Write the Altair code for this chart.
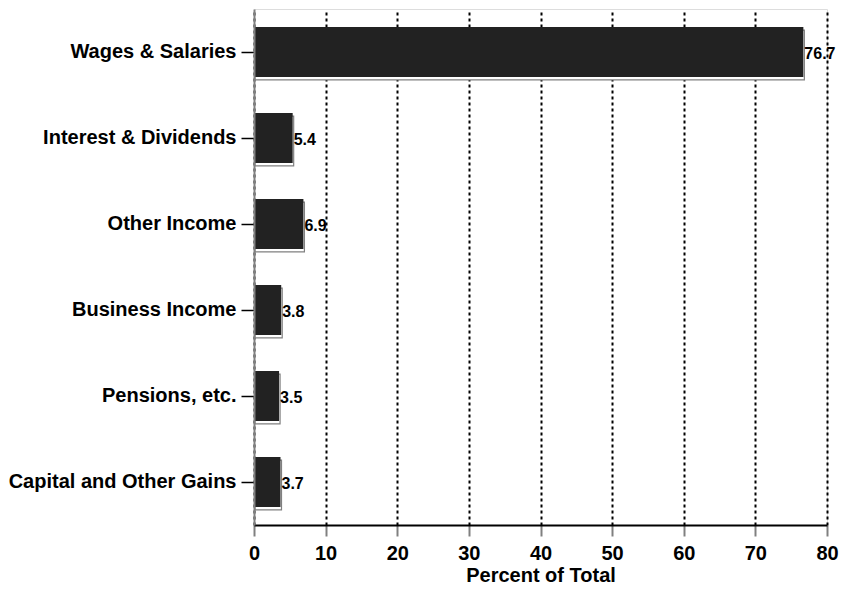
import altair as alt
import pandas as pd

categories = ["Wages & Salaries", "Interest & Dividends", "Other Income",
              "Business Income", "Pensions, etc.", "Capital and Other Gains"]
values = [76.7, 5.4, 6.9, 3.8, 3.5, 3.7]
labels = ["76.7", "5.4", "6.9", "3.8", "3.5", "3.7"]
x_ticks = [0, 10, 20, 30, 40, 50, 60, 70, 80]

df = pd.DataFrame({"category": categories, "value": values, "label": labels})

FONT = "Liberation Sans"

y_enc = alt.Y(
    "category:N", sort=categories, title=None,
    scale=alt.Scale(paddingInner=0.42, paddingOuter=0.21),
    axis=alt.Axis(labelFont=FONT, labelFontSize=20, labelFontWeight="bold",
                  labelColor="black", labelPadding=5, tickSize=13,
                  tickColor="black", tickWidth=1.5, domainColor="#808080",
                  domainWidth=2, grid=False, labelLimit=400, zindex=2),
)
x_enc = alt.X(
    "value:Q", scale=alt.Scale(domain=[0, 80], nice=False),
    axis=alt.Axis(values=x_ticks, title="Percent of Total", grid=True,
                  gridDash=[3, 3], gridColor="black", gridWidth=2, gridOpacity=1,
                  labelFont=FONT, labelFontSize=20, labelFontWeight="bold",
                  labelColor="black", labelPadding=7, tickSize=11,
                  tickColor="#808080", tickWidth=2, domainColor="black",
                  domainWidth=2, titleFont=FONT, titleFontSize=20,
                  titleFontWeight="bold", titleColor="black", titlePadding=2,
                  labelFlush=False),
)

shadow = alt.Chart(df).mark_bar(color="white", stroke="#808080", strokeWidth=1.2,
                                yOffset=3, xOffset=1).encode(x=x_enc, y=y_enc)
bars = alt.Chart(df).mark_bar(color="#222222").encode(x=x_enc, y=y_enc)
text = alt.Chart(df).mark_text(align="left", baseline="middle", dx=1, dy=2,
                               font=FONT, fontSize=16, fontWeight="bold",
                               color="black").encode(x=x_enc, y=y_enc, text="label:N")

chart = alt.layer(shadow, bars, text).properties(
    width=573, height=516,
    autosize=alt.AutoSizeParams(type="none"),
    padding={"left": 246, "top": 1, "right": 13, "bottom": 60},
).configure_view(stroke=None).configure(background="white")

chart.save("out.html", embed_options={"renderer": "svg", "actions": False})
